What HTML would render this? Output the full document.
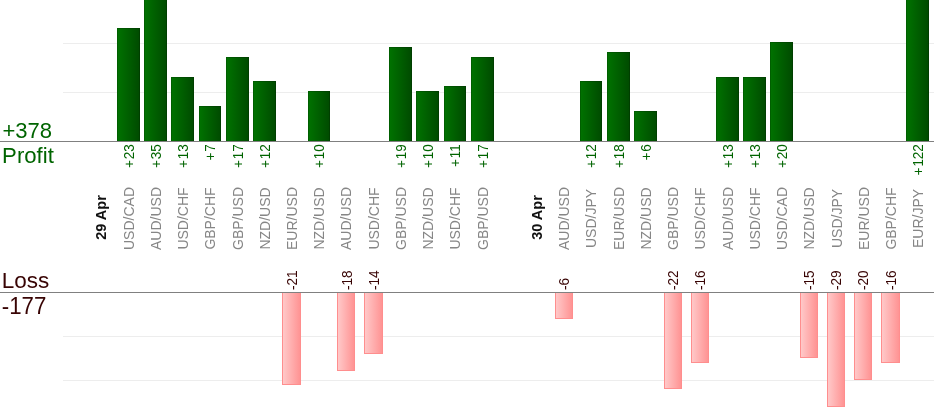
<!DOCTYPE html>
<html><head><meta charset="utf-8"><title>Profit / Loss</title>
<style>
html,body{margin:0;padding:0;background:#fff;}
body{width:934px;height:420px;overflow:hidden;font-family:"Liberation Sans",Arial,sans-serif;}
svg{display:block;font-family:"Liberation Sans",Arial,sans-serif;}
.big{font-size:22.5px;}
.g{fill:#006400;}
.r{fill:#380404;}
.pv{font-size:14px;fill:#006400;text-anchor:end;}
.lv{font-size:14px;fill:#380404;text-anchor:start;}
.nm{font-size:14px;fill:#868686;text-anchor:middle;}
.dt{font-size:14.5px;fill:#111;text-anchor:middle;font-weight:bold;}
</style></head><body>
<svg width="934" height="420" viewBox="0 0 934 420">
<defs>
<linearGradient id="gp" x1="0" y1="0" x2="1" y2="0"><stop offset="0" stop-color="#007300"/><stop offset="1" stop-color="#004a00"/></linearGradient>
<linearGradient id="gl" x1="0" y1="0" x2="1" y2="0"><stop offset="0" stop-color="#ffcaca"/><stop offset="1" stop-color="#ff9292"/></linearGradient>
</defs>
<rect width="934" height="420" fill="#fff"/>
<g fill="#ededed" shape-rendering="crispEdges">
<rect x="63" y="43" width="871" height="1"/><rect x="63" y="92" width="871" height="1"/>
<rect x="63" y="336" width="871" height="1"/><rect x="63" y="380" width="871" height="1"/>
</g>
<g shape-rendering="crispEdges">
<rect x="117" y="28" width="23" height="113" fill="url(#gp)"/><rect x="117.5" y="28.5" width="22" height="113" fill="none" stroke="#000" stroke-opacity="0.17"/>
<rect x="144" y="-2" width="23" height="143" fill="url(#gp)"/><rect x="144.5" y="-1.5" width="22" height="143" fill="none" stroke="#000" stroke-opacity="0.17"/>
<rect x="171" y="77" width="23" height="64" fill="url(#gp)"/><rect x="171.5" y="77.5" width="22" height="64" fill="none" stroke="#000" stroke-opacity="0.17"/>
<rect x="199" y="106" width="22" height="35" fill="url(#gp)"/><rect x="199.5" y="106.5" width="21" height="35" fill="none" stroke="#000" stroke-opacity="0.17"/>
<rect x="226" y="57" width="23" height="84" fill="url(#gp)"/><rect x="226.5" y="57.5" width="22" height="84" fill="none" stroke="#000" stroke-opacity="0.17"/>
<rect x="253" y="81" width="23" height="60" fill="url(#gp)"/><rect x="253.5" y="81.5" width="22" height="60" fill="none" stroke="#000" stroke-opacity="0.17"/>
<rect x="308" y="91" width="22" height="50" fill="url(#gp)"/><rect x="308.5" y="91.5" width="21" height="50" fill="none" stroke="#000" stroke-opacity="0.17"/>
<rect x="389" y="47" width="23" height="94" fill="url(#gp)"/><rect x="389.5" y="47.5" width="22" height="94" fill="none" stroke="#000" stroke-opacity="0.17"/>
<rect x="416" y="91" width="23" height="50" fill="url(#gp)"/><rect x="416.5" y="91.5" width="22" height="50" fill="none" stroke="#000" stroke-opacity="0.17"/>
<rect x="444" y="86" width="22" height="55" fill="url(#gp)"/><rect x="444.5" y="86.5" width="21" height="55" fill="none" stroke="#000" stroke-opacity="0.17"/>
<rect x="471" y="57" width="23" height="84" fill="url(#gp)"/><rect x="471.5" y="57.5" width="22" height="84" fill="none" stroke="#000" stroke-opacity="0.17"/>
<rect x="580" y="81" width="22" height="60" fill="url(#gp)"/><rect x="580.5" y="81.5" width="21" height="60" fill="none" stroke="#000" stroke-opacity="0.17"/>
<rect x="607" y="52" width="23" height="89" fill="url(#gp)"/><rect x="607.5" y="52.5" width="22" height="89" fill="none" stroke="#000" stroke-opacity="0.17"/>
<rect x="634" y="111" width="23" height="30" fill="url(#gp)"/><rect x="634.5" y="111.5" width="22" height="30" fill="none" stroke="#000" stroke-opacity="0.17"/>
<rect x="716" y="77" width="23" height="64" fill="url(#gp)"/><rect x="716.5" y="77.5" width="22" height="64" fill="none" stroke="#000" stroke-opacity="0.17"/>
<rect x="743" y="77" width="23" height="64" fill="url(#gp)"/><rect x="743.5" y="77.5" width="22" height="64" fill="none" stroke="#000" stroke-opacity="0.17"/>
<rect x="770" y="42" width="23" height="99" fill="url(#gp)"/><rect x="770.5" y="42.5" width="22" height="99" fill="none" stroke="#000" stroke-opacity="0.17"/>
<rect x="906" y="-2" width="23" height="143" fill="url(#gp)"/><rect x="906.5" y="-1.5" width="22" height="143" fill="none" stroke="#000" stroke-opacity="0.17"/>
<rect x="282.5" y="292.5" width="18" height="92" fill="url(#gl)" stroke="#ff8e8e" stroke-width="1"/>
<rect x="337.5" y="292.5" width="17" height="78" fill="url(#gl)" stroke="#ff8e8e" stroke-width="1"/>
<rect x="364.5" y="292.5" width="18" height="61" fill="url(#gl)" stroke="#ff8e8e" stroke-width="1"/>
<rect x="555.5" y="292.5" width="17" height="26" fill="url(#gl)" stroke="#ff8e8e" stroke-width="1"/>
<rect x="664.5" y="292.5" width="17" height="96" fill="url(#gl)" stroke="#ff8e8e" stroke-width="1"/>
<rect x="691.5" y="292.5" width="17" height="70" fill="url(#gl)" stroke="#ff8e8e" stroke-width="1"/>
<rect x="800.5" y="292.5" width="17" height="65" fill="url(#gl)" stroke="#ff8e8e" stroke-width="1"/>
<rect x="827.5" y="292.5" width="17" height="114" fill="url(#gl)" stroke="#ff8e8e" stroke-width="1"/>
<rect x="854.5" y="292.5" width="17" height="87" fill="url(#gl)" stroke="#ff8e8e" stroke-width="1"/>
<rect x="881.5" y="292.5" width="18" height="70" fill="url(#gl)" stroke="#ff8e8e" stroke-width="1"/>
<rect x="0" y="141" width="934" height="1" fill="#808080"/><rect x="0" y="292" width="934" height="1" fill="#808080"/>
</g>
<text class="big g" transform="translate(2.4,138) scale(0.98,1.0)">+378</text><text class="big g" transform="translate(2.1,163) scale(0.985,0.96)">Profit</text>
<text class="big r" transform="translate(1.8,288) scale(1,1.0)">Loss</text><text class="big r" transform="translate(1.8,313.5) scale(0.99,1.03)">-177</text>
<text class="pv" transform="translate(133.8,144.2) rotate(-90) scale(0.96,1)">+<tspan dx="1">23</tspan></text>
<text class="pv" transform="translate(160.8,144.2) rotate(-90) scale(0.96,1)">+<tspan dx="1">35</tspan></text>
<text class="pv" transform="translate(187.8,144.2) rotate(-90) scale(0.96,1)">+<tspan dx="1">13</tspan></text>
<text class="pv" transform="translate(215.3,144.2) rotate(-90) scale(0.96,1)">+<tspan dx="1">7</tspan></text>
<text class="pv" transform="translate(242.8,144.2) rotate(-90) scale(0.96,1)">+<tspan dx="1">17</tspan></text>
<text class="pv" transform="translate(269.8,144.2) rotate(-90) scale(0.96,1)">+<tspan dx="1">12</tspan></text>
<text class="pv" transform="translate(324.3,144.2) rotate(-90) scale(0.96,1)">+<tspan dx="1">10</tspan></text>
<text class="pv" transform="translate(405.8,144.2) rotate(-90) scale(0.96,1)">+<tspan dx="1">19</tspan></text>
<text class="pv" transform="translate(432.8,144.2) rotate(-90) scale(0.96,1)">+<tspan dx="1">10</tspan></text>
<text class="pv" transform="translate(460.3,144.2) rotate(-90) scale(0.96,1)">+<tspan dx="1">11</tspan></text>
<text class="pv" transform="translate(487.8,144.2) rotate(-90) scale(0.96,1)">+<tspan dx="1">17</tspan></text>
<text class="pv" transform="translate(596.3,144.2) rotate(-90) scale(0.96,1)">+<tspan dx="1">12</tspan></text>
<text class="pv" transform="translate(623.8,144.2) rotate(-90) scale(0.96,1)">+<tspan dx="1">18</tspan></text>
<text class="pv" transform="translate(650.8,144.2) rotate(-90) scale(0.96,1)">+<tspan dx="1">6</tspan></text>
<text class="pv" transform="translate(732.8,144.2) rotate(-90) scale(0.96,1)">+<tspan dx="1">13</tspan></text>
<text class="pv" transform="translate(759.8,144.2) rotate(-90) scale(0.96,1)">+<tspan dx="1">13</tspan></text>
<text class="pv" transform="translate(786.8,144.2) rotate(-90) scale(0.96,1)">+<tspan dx="1">20</tspan></text>
<text class="pv" transform="translate(922.8,144.2) rotate(-90) scale(0.96,1)">+<tspan dx="1">122</tspan></text>
<text class="lv" transform="translate(296.8,290) rotate(-90) scale(0.97,1)"><tspan dy="0.8">-</tspan><tspan dy="-0.8">21</tspan></text>
<text class="lv" transform="translate(352.3,290) rotate(-90) scale(0.97,1)"><tspan dy="0.8">-</tspan><tspan dy="-0.8">18</tspan></text>
<text class="lv" transform="translate(378.8,290) rotate(-90) scale(0.97,1)"><tspan dy="0.8">-</tspan><tspan dy="-0.8">14</tspan></text>
<text class="lv" transform="translate(569.3,290) rotate(-90) scale(0.97,1)"><tspan dy="0.8">-</tspan><tspan dy="-0.8">6</tspan></text>
<text class="lv" transform="translate(678.3,290) rotate(-90) scale(0.97,1)"><tspan dy="0.8">-</tspan><tspan dy="-0.8">22</tspan></text>
<text class="lv" transform="translate(705.3,290) rotate(-90) scale(0.97,1)"><tspan dy="0.8">-</tspan><tspan dy="-0.8">16</tspan></text>
<text class="lv" transform="translate(814.3,290) rotate(-90) scale(0.97,1)"><tspan dy="0.8">-</tspan><tspan dy="-0.8">15</tspan></text>
<text class="lv" transform="translate(841.3,290) rotate(-90) scale(0.97,1)"><tspan dy="0.8">-</tspan><tspan dy="-0.8">29</tspan></text>
<text class="lv" transform="translate(868.3,290) rotate(-90) scale(0.97,1)"><tspan dy="0.8">-</tspan><tspan dy="-0.8">20</tspan></text>
<text class="lv" transform="translate(895.8,290) rotate(-90) scale(0.97,1)"><tspan dy="0.8">-</tspan><tspan dy="-0.8">16</tspan></text>
<text class="dt" transform="translate(106.4,217.5) rotate(-90)">29 Apr</text>
<text class="nm" transform="translate(133.6,218.5) rotate(-90)">USD/CAD</text>
<text class="nm" transform="translate(160.8,218.5) rotate(-90)">AUD/USD</text>
<text class="nm" transform="translate(188.1,218.5) rotate(-90)">USD/CHF</text>
<text class="nm" transform="translate(215.3,218.5) rotate(-90)">GBP/CHF</text>
<text class="nm" transform="translate(242.5,218.5) rotate(-90)">GBP/USD</text>
<text class="nm" transform="translate(269.7,218.5) rotate(-90)">NZD/USD</text>
<text class="nm" transform="translate(297.0,218.5) rotate(-90)">EUR/USD</text>
<text class="nm" transform="translate(324.2,218.5) rotate(-90)">NZD/USD</text>
<text class="nm" transform="translate(351.4,218.5) rotate(-90)">AUD/USD</text>
<text class="nm" transform="translate(378.6,218.5) rotate(-90)">USD/CHF</text>
<text class="nm" transform="translate(405.9,218.5) rotate(-90)">GBP/USD</text>
<text class="nm" transform="translate(433.1,218.5) rotate(-90)">NZD/USD</text>
<text class="nm" transform="translate(460.3,218.5) rotate(-90)">USD/CHF</text>
<text class="nm" transform="translate(487.5,218.5) rotate(-90)">GBP/USD</text>
<text class="dt" transform="translate(542.0,217.5) rotate(-90)">30 Apr</text>
<text class="nm" transform="translate(569.2,218.5) rotate(-90)">AUD/USD</text>
<text class="nm" transform="translate(596.4,218.5) rotate(-90)">USD/JPY</text>
<text class="nm" transform="translate(623.7,218.5) rotate(-90)">EUR/USD</text>
<text class="nm" transform="translate(650.9,218.5) rotate(-90)">NZD/USD</text>
<text class="nm" transform="translate(678.1,218.5) rotate(-90)">GBP/USD</text>
<text class="nm" transform="translate(705.3,218.5) rotate(-90)">USD/CHF</text>
<text class="nm" transform="translate(732.6,218.5) rotate(-90)">AUD/USD</text>
<text class="nm" transform="translate(759.8,218.5) rotate(-90)">USD/CHF</text>
<text class="nm" transform="translate(787.0,218.5) rotate(-90)">USD/CAD</text>
<text class="nm" transform="translate(814.2,218.5) rotate(-90)">NZD/USD</text>
<text class="nm" transform="translate(841.5,218.5) rotate(-90)">USD/JPY</text>
<text class="nm" transform="translate(868.7,218.5) rotate(-90)">EUR/USD</text>
<text class="nm" transform="translate(895.9,218.5) rotate(-90)">GBP/CHF</text>
<text class="nm" transform="translate(923.1,218.5) rotate(-90)">EUR/JPY</text>
</svg></body></html>
